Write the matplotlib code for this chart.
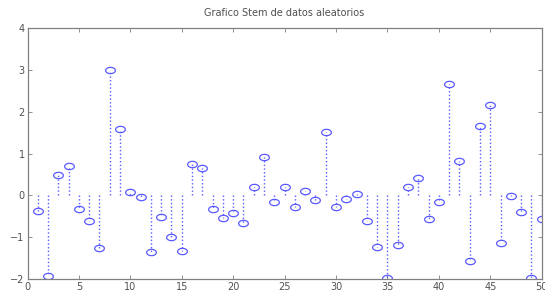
import matplotlib
matplotlib.use("Agg")
import numpy as np
import matplotlib.pyplot as plt

# valores (indice 1..50)
x = list(range(1, 51))
y = [-0.38, -1.93, 0.49, 0.71, -0.32, -0.61, -1.25, 3.00, 1.59, 0.08,
     -0.03, -1.35, -0.52, -0.99, -1.34, 0.75, 0.66, -0.32, -0.53, -0.42,
     -0.66, 0.21, 0.91, -0.17, 0.21, -0.28, 0.10, -0.10, 1.52, -0.28,
     -0.08, 0.02, -0.61, -1.23, -1.98, -1.18, 0.19, 0.41, -0.56, -0.16,
     2.66, 0.83, -1.56, 1.66, 2.16, -1.15, -0.01, -0.40, -1.98, -0.56]
xticks = [0, 5, 10, 15, 20, 25, 30, 35, 40, 45, 50]
yticks = [-2, -1, 0, 1, 2, 3, 4]
title = "Grafico Stem de datos aleatorios"

blue = "#5a5aff"
grey = "#808080"

# circulo aplastado, como en la imagen original
t = np.linspace(0, 2 * np.pi, 40)
ellipse = list(zip(np.cos(t), 0.65 * np.sin(t)))

fig = plt.figure(figsize=(5.45, 2.93), dpi=100)
ax = fig.add_axes([27.5 / 545, 1 - 279 / 293, (541.7 - 27.5) / 545, (279 - 28) / 293])

markerline, stemlines, baseline = ax.stem(x, y, linefmt=":", markerfmt="o", basefmt=" ")
plt.setp(stemlines, color=blue, linewidth=1.0)
plt.setp(markerline, marker=ellipse, markerfacecolor="none", markeredgecolor=blue,
         markersize=7, markeredgewidth=0.9)
baseline.set_visible(False)

ax.set_xlim(0, 50)
ax.set_ylim(-2, 4)
ax.set_xticks(xticks)
ax.set_yticks(yticks)
ax.tick_params(direction="in", top=True, right=True, length=3, width=0.6,
               colors=grey, labelcolor="#505050", labelsize=7, pad=2)
for s in ax.spines.values():
    s.set_color(grey)
    s.set_linewidth(0.9)

ax.set_title(title, fontsize=7, color="#505050", pad=9)

fig.savefig("out.png", dpi=100)
